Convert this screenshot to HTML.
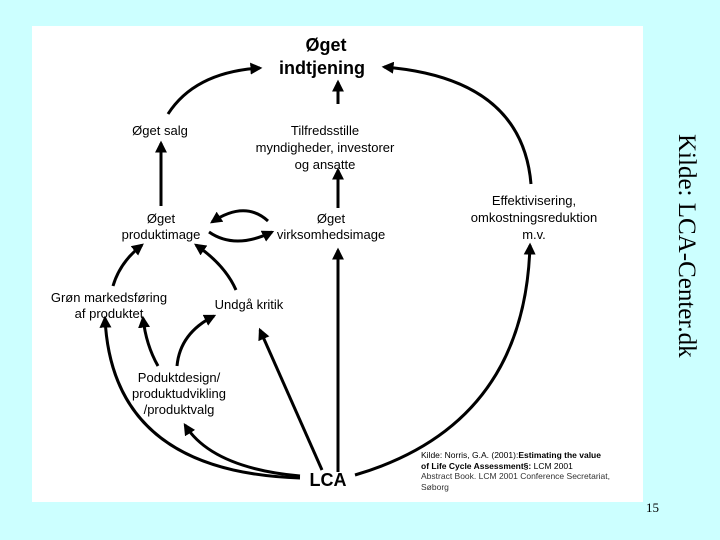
<!DOCTYPE html>
<html><head><meta charset="utf-8"><style>
html,body{margin:0;padding:0;background:#ccffff;}
svg{display:block}
</style></head><body>
<svg width="720" height="540" viewBox="0 0 720 540" xmlns="http://www.w3.org/2000/svg">
<defs>
<marker id="a" viewBox="0 0 10 10" refX="8" refY="5" markerWidth="4" markerHeight="4" orient="auto" markerUnits="strokeWidth">
<path d="M0,0 L10,5 L0,10 z" fill="#000"/></marker>
</defs>
<rect x="0" y="0" width="720" height="540" fill="#ccffff"/>
<rect x="32" y="26" width="611" height="476" fill="#fff"/>
<g stroke="#000" stroke-width="3" fill="none" marker-end="url(#a)">
<path d="M168,114 Q195,72 260,68"/>
<path d="M531,184 Q522,78 384,67"/>
<path d="M338,104 L338,82"/>
<path d="M338,208 L338,170"/>
<path d="M161,206 L161,143"/>
<path d="M338,472 L338,250"/>
<path d="M268,221 Q245,200 212,222"/>
<path d="M209,232 Q235,250 272,232"/>
<path d="M113,286 Q120,262 142,245"/>
<path d="M236,290 Q225,265 196,245"/>
<path d="M322,470 L260,330"/>
<path d="M355,475 Q525,425 530,245"/>
<path d="M300,478 Q112,472 105,318"/>
<path d="M300,476 Q212,468 185,425"/>
<path d="M158,366 Q146,345 143,318"/>
<path d="M177,366 Q180,333 214,316"/>
</g>
<g font-family="Liberation Sans, DejaVu Sans, sans-serif" fill="#000" text-anchor="middle">
<text x="326" y="51" font-size="18" font-weight="bold">Øget</text>
<text x="322" y="74" font-size="18" font-weight="bold">indtjening</text>
<text x="160" y="135" font-size="13">Øget salg</text>
<text x="325" y="135" font-size="13">Tilfredsstille</text>
<text x="325" y="152" font-size="13">myndigheder, investorer</text>
<text x="325" y="169" font-size="13">og ansatte</text>
<text x="534" y="205" font-size="13">Effektivisering,</text>
<text x="534" y="222" font-size="13">omkostningsreduktion</text>
<text x="534" y="239" font-size="13">m.v.</text>
<text x="161" y="223" font-size="13">Øget</text>
<text x="161" y="239" font-size="13">produktimage</text>
<text x="331" y="223" font-size="13">Øget</text>
<text x="331" y="239" font-size="13">virksomhedsimage</text>
<text x="109" y="302" font-size="13">Grøn markedsføring</text>
<text x="109" y="318" font-size="13">af produktet</text>
<text x="249" y="309" font-size="13">Undgå kritik</text>
<text x="179" y="382" font-size="13">Poduktdesign/</text>
<text x="179" y="398" font-size="13">produktudvikling</text>
<text x="179" y="414" font-size="13">/produktvalg</text>
<text x="328" y="486" font-size="18" font-weight="bold">LCA</text>
</g>
<g font-family="Liberation Sans, DejaVu Sans, sans-serif" font-size="8.5" fill="#000">
<text x="421" y="458">Kilde: Norris, G.A. (2001):<tspan font-weight="bold">Estimating the value</tspan></text>
<text x="421" y="469"><tspan font-weight="bold">of Life Cycle Assessment§:</tspan> LCM 2001</text>
<text x="421" y="479" fill="#333">Abstract Book. LCM 2001 Conference Secretariat,</text>
<text x="421" y="490" fill="#333">Søborg</text>
</g>
<text x="646" y="512" font-family="Liberation Serif, serif" font-size="13">15</text>
<text transform="translate(679,134) rotate(90)" font-family="Liberation Serif, serif" font-size="25" fill="#000">Kilde:  LCA-Center.dk</text>
</svg>
</body></html>
